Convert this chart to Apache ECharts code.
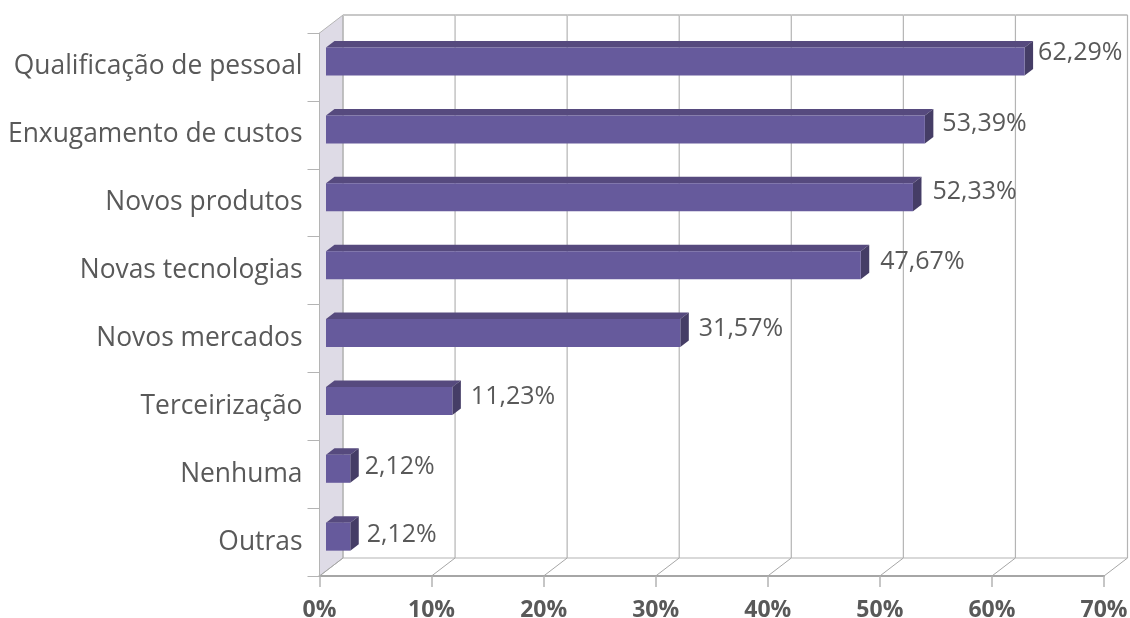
<!DOCTYPE html>
<html>
<head>
<meta charset="utf-8">
<title>Chart</title>
<script src="https://cdn.jsdelivr.net/npm/echarts@6/dist/echarts.min.js"></script>
<style>
    html, body { margin: 0; padding: 0; background: #fff; }
    #chart { width: 1130px; height: 618px; }
</style>
</head>
<body>
<div id="chart"></div>
<script>
const categories = ["Qualificação de pessoal", "Enxugamento de custos", "Novos produtos", "Novas tecnologias", "Novos mercados", "Terceirização", "Nenhuma", "Outras"]
const values = [62.29, 53.39, 52.33, 47.67, 31.57, 11.23, 2.12, 2.12]
const valueLabels = ["62,29%", "53,39%", "52,33%", "47,67%", "31,57%", "11,23%", "2,12%", "2,12%"]
const xTicks = [0, 10, 20, 30, 40, 50, 60, 70]

// fake 3d: how far the back wall sits from the front plane
const wallDx = 23.5
const wallDy = -18
// where the bar sits inside that depth
const barDx = 6.5
const barEndDx = 7
const barDy = -5.4
const barDepthX = 8.5
const barDepthY = -6.5
const barHeight = 28
// labels were placed by hand in the original, nudge each one from the bar end
const labelDx = [5, 9, 11, 11, 10, 10, 6, 8]
const labelDy = [-14.4, -11.3, -11.2, -9.1, -9.9, -9.8, -7.7, -7.6]

const textColor = "#595959"
const fontName = "'Open Sans', 'Noto Sans', sans-serif"

let chart = echarts.init(document.getElementById("chart"))

function renderWall(params, api) {
    let v = api.value(0)
    let top = categories[0]
    let bottom = categories[categories.length - 1]
    let band = api.size([0, 1])[1]
    let p0 = api.coord([v, bottom])
    let yBottom = p0[1] + band / 2
    let yTop = api.coord([v, top])[1] - band / 2
    let x = p0[0]
    let children = []
    let lineStyle = { stroke: "#b4b4b4", lineWidth: 1.2, fill: null }

    if (v === 0) {
        children.push({
            type: "polygon",
            shape: { points: [[x, yTop], [x + wallDx, yTop + wallDy], [x + wallDx, yBottom + wallDy], [x, yBottom]] },
            style: { fill: "#dedbe6", stroke: "#b4b4b4", lineWidth: 1 }
        })
    }
    // back wall gridline and the floor diagonal
    children.push({
        type: "line",
        shape: { x1: x + wallDx, y1: yTop + wallDy, x2: x + wallDx, y2: yBottom + wallDy },
        style: lineStyle
    })
    children.push({
        type: "line",
        shape: { x1: x, y1: yBottom, x2: x + wallDx, y2: yBottom + wallDy },
        style: { stroke: "#a6a6a6", lineWidth: 1, fill: null }
    })
    if (params.dataIndex < xTicks.length - 1) {
        let next = api.coord([xTicks[params.dataIndex + 1], bottom])[0]
        children.push({
            type: "line",
            shape: { x1: x + wallDx, y1: yTop + wallDy, x2: next + wallDx, y2: yTop + wallDy },
            style: { stroke: "#c8c8c8", lineWidth: 2, fill: null }
        })
        children.push({
            type: "line",
            shape: { x1: x + wallDx, y1: yBottom + wallDy, x2: next + wallDx, y2: yBottom + wallDy },
            style: lineStyle
        })
    }
    return { type: "group", children: children }
}

function renderBar(params, api) {
    let i = params.dataIndex
    let start = api.coord([0, api.value(1)])
    let end = api.coord([api.value(0), api.value(1)])
    let x0 = start[0] + barDx
    let x1 = end[0] + barEndDx
    let y1 = start[1] + barDy - barHeight / 2
    let y2 = y1 + barHeight
    return {
        type: "group",
        children: [
            {
                type: "polygon",
                shape: { points: [[x0, y1], [x0 + barDepthX, y1 + barDepthY], [x1 + barDepthX, y1 + barDepthY], [x1, y1]] },
                style: { fill: "#564a7e" }
            },
            {
                type: "polygon",
                shape: { points: [[x1, y1], [x1 + barDepthX, y1 + barDepthY], [x1 + barDepthX, y2 + barDepthY], [x1, y2]] },
                style: { fill: "#453d66" }
            },
            {
                type: "rect",
                shape: { x: x0, y: y1, width: x1 - x0, height: barHeight },
                style: { fill: "#665a9c" }
            },
            {
                type: "text",
                style: {
                    x: x1 + barDepthX + labelDx[i],
                    y: start[1] + labelDy[i],
                    text: valueLabels[i],
                    fill: textColor,
                    font: "25px " + fontName,
                    verticalAlign: "middle"
                }
            }
        ]
    }
}

let option = {
    animation: false,
    grid: { left: 319.5, right: 26, top: 33, bottom: 42, outerBoundsMode: "none" },
    xAxis: {
        type: "value",
        min: 0,
        max: 70,
        interval: 10,
        axisLine: { show: true, lineStyle: { color: "#a6a6a6", width: 2 } },
        axisTick: { show: true, length: 11, lineStyle: { color: "#b4b4b4", width: 1.5 } },
        splitLine: { show: false },
        axisLabel: {
            formatter: "{value}%",
            margin: 23,
            color: textColor,
            fontFamily: fontName,
            fontWeight: "bold",
            fontSize: 23
        }
    },
    yAxis: {
        type: "category",
        inverse: true,
        data: categories,
        axisLine: { show: true, onZero: false, lineStyle: { color: "#a6a6a6", width: 1.5 } },
        axisTick: { show: true, length: 12, lineStyle: { color: "#b4b4b4", width: 1 } },
        axisLabel: {
            margin: 17,
            color: textColor,
            fontFamily: fontName,
            fontSize: 26.4,
            interval: 0
        }
    },
    series: [
        {
            type: "custom",
            renderItem: renderWall,
            data: xTicks.map(function (t) { return [t] }),
            encode: { x: 0 },
            clip: false,
            silent: true,
            z: 1
        },
        {
            type: "custom",
            renderItem: renderBar,
            data: values.map(function (v, i) { return [v, i] }),
            encode: { x: 0, y: 1 },
            clip: false,
            silent: true,
            z: 3
        }
    ]
}
chart.setOption(option)
</script>
</body>
</html>
